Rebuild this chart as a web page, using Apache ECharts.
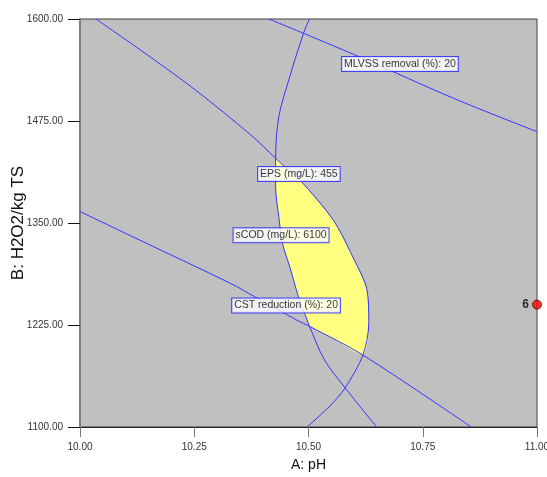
<!DOCTYPE html>
<html>
<head>
<meta charset="utf-8">
<script src="https://cdn.jsdelivr.net/npm/echarts@6/dist/echarts.min.js"></script>
<style>html,body{margin:0;padding:0;background:#fff;}#c{width:547px;height:477px;}</style>
</head>
<body>
<div id="c"></div>
<script>
// Axis ticks
var xTicks = [10.00, 10.25, 10.50, 10.75, 11.00];
var yTicks = [1100, 1225, 1350, 1475, 1600];

// Contour lines [pH, H2O2/kg TS]
var epsLine = [[10.035,1600],[10.153,1553.8],[10.2525,1513],[10.374,1457.8],[10.428,1429.3],[10.444,1421],[10.481,1402.7],[10.554,1353.7],[10.597,1308.3],[10.628,1267.9],[10.632,1227.5],[10.619,1188.2],[10.580,1147.8],[10.549,1127],[10.497,1100]];
var scodLine = [[10.502,1600],[10.489,1582.5],[10.459,1529.3],[10.435,1480.3],[10.428,1429.3],[10.428,1394.5],[10.435,1357.7],[10.443,1325.1],[10.459,1296.4],[10.478,1259.7],[10.497,1231.1],[10.501,1225],[10.535,1182.1],[10.581,1147.4],[10.649,1100]];
var cstLine = [[10.000,1364],[10.130,1329.2],[10.329,1276.1],[10.382,1259.7],[10.474,1231.1],[10.504,1222.9],[10.619,1188.2],[10.856,1100]];
var mlvssLine = [[10.413,1600],[10.489,1582.5],[10.619,1551.8],[10.8175,1502.8],[11.0,1461.9]];

// Feasible (yellow) region boundary
var sweetSpot = [[10.428,1429.3],[10.428,1394.5],[10.435,1357.7],[10.443,1325.1],[10.459,1296.4],[10.478,1259.7],[10.497,1231.1],[10.502,1224],[10.560,1206],[10.619,1188.2],[10.630,1205],[10.632,1227.5],[10.628,1267.9],[10.597,1308.3],[10.554,1353.7],[10.481,1402.7],[10.444,1421]];

// Contour labels
var labelNames = ['MLVSS removal (%): 20','EPS (mg/L): 455','sCOD (mg/L): 6100','CST reduction (%): 20'];
var labelPos = [[10.700,1545],[10.479,1410],[10.440,1335],[10.451,1249]];

// Design point
var designPoint = [[11.0,1250]];
var designCount = ['6'];

var lineColor = '#3434ff';
var chart = echarts.init(document.getElementById('c'));
function lineSeries(d){
  return {type:'line', data:d, smooth:0.3, symbol:'none', lineStyle:{color:lineColor,width:1}, z:3, silent:true};
}
var fontF = "'Liberation Sans',Arial,sans-serif";
chart.setOption({
  animation:false,
  grid:{left:80,right:10,top:19,bottom:50,outerBoundsMode:'none',containLabel:false,show:true,backgroundColor:'#c0c0c0',borderColor:'#404040',borderWidth:1},
  xAxis:{type:'value',min:10,max:11,interval:0.25,
    name:'A: pH',nameLocation:'middle',nameGap:31,nameMoveOverlap:false,nameTextStyle:{fontSize:14,color:'#111',fontFamily:fontF},
    axisLine:{show:true,onZero:false,lineStyle:{color:'#222',width:1}},
    axisTick:{show:true,length:10,lineStyle:{color:'#777',width:1}},
    axisLabel:{formatter:function(v){return v.toFixed(2);},fontSize:10,color:'#333',margin:15,fontFamily:fontF},
    splitLine:{show:false}},
  yAxis:{type:'value',min:1100,max:1600,interval:125,
    name:'B: H2O2/kg TS',nameLocation:'middle',nameGap:53,nameMoveOverlap:false,nameTextStyle:{fontSize:17,color:'#111',fontFamily:fontF},
    axisLine:{show:true,onZero:false,lineStyle:{color:'#808080',width:2}},
    axisTick:{show:true,length:12,lineStyle:{color:'#111',width:1}},
    axisLabel:{formatter:function(v){return v.toFixed(2);},fontSize:10,color:'#333',margin:17,fontFamily:fontF},
    splitLine:{show:false}},
  series:[
    {type:'custom', silent:true, z:2, data:[0],
      renderItem:function(params, api){
        var pts = sweetSpot.map(function(p){return api.coord(p);});
        return {type:'polygon', shape:{points:pts, smooth:0.2}, style:{fill:'#ffff80', stroke:null}};
      }},
    lineSeries(epsLine), lineSeries(scodLine), lineSeries(cstLine), lineSeries(mlvssLine),
    {type:'scatter', z:5, silent:true, symbolSize:0,
      data:labelNames.map(function(n,i){return {name:n, value:labelPos[i]};}),
      label:{show:true, position:'inside', formatter:'{b}', fontSize:10.5, color:'#000', fontFamily:fontF,
        backgroundColor:'#fff', borderColor:'#2222ff', borderWidth:1, padding:[2,2,1,2]}},
    {type:'scatter', z:6, clip:false, silent:true, symbolSize:9,
      data:designPoint.map(function(p,i){return {name:designCount[i], value:p};}),
      itemStyle:{color:'#ff0000', borderColor:'#550000', borderWidth:1},
      label:{show:true, position:'left', distance:3, formatter:'{b}', fontSize:12, fontWeight:'bold', color:'#000', fontFamily:fontF}}
  ]
});
</script>
</body>
</html>
